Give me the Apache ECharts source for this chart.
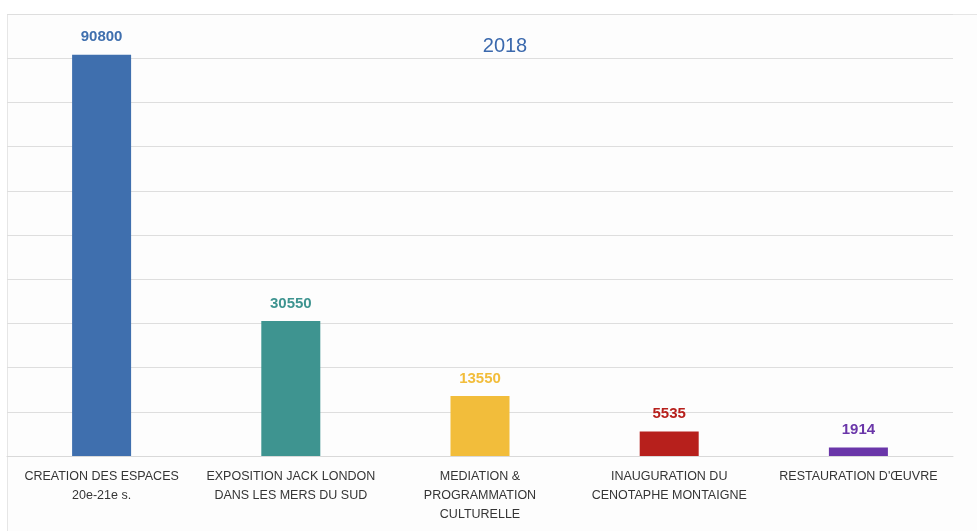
<!DOCTYPE html>
<html>
<head>
<meta charset="utf-8">
<script src="https://cdn.jsdelivr.net/npm/echarts@6/dist/echarts.min.js"></script>
<style>
  html, body { margin: 0; padding: 0; background: #ffffff; }
  #chart { width: 977px; height: 531px; }
</style>
</head>
<body>
<div id="chart"></div>
<script>
// Project categories (2018) and their amounts
const categories = [
  'CREATION DES ESPACES\n20e-21e s.',
  'EXPOSITION JACK LONDON\nDANS LES MERS DU SUD',
  'MEDIATION &\nPROGRAMMATION\nCULTURELLE',
  'INAUGURATION DU\nCENOTAPHE MONTAIGNE',
  "RESTAURATION D'ŒUVRE"
];
const values = [90800, 30550, 13550, 5535, 1914];
const barColors = ['#3f6fae', '#3e9490', '#f2bd3b', '#b7201c', '#6a36a9'];
const titleText = '2018';

const chart = echarts.init(document.getElementById('chart'), null, { renderer: 'canvas' });

chart.setOption({
  animation: false,
  backgroundColor: '#ffffff',
  title: {
    text: titleText,
    left: 500,
    top: 31,
    textAlign: 'center',
    textStyle: { color: '#3b69ad', fontSize: 20, fontWeight: 'normal', fontFamily: 'Liberation Sans' }
  },
  graphic: [{
    type: 'rect',
    z: -1,
    shape: { x: 7.5, y: 14.5, width: 990, height: 540 },
    style: { fill: '#fdfdfd', stroke: '#e6e6e6', lineWidth: 1 }
  }],
  grid: { left: 7, right: 24, top: 14, bottom: 75, containLabel: false },
  xAxis: {
    type: 'category',
    data: categories,
    axisLine: { show: true, lineStyle: { color: '#d9d9d9', width: 1 } },
    axisTick: { show: false },
    axisLabel: {
      margin: 11,
      interval: 0,
      color: '#353535',
      fontSize: 12.5,
      lineHeight: 19,
      fontFamily: 'Liberation Sans'
    }
  },
  yAxis: {
    type: 'value',
    min: 0,
    max: 100000,
    interval: 10000,
    axisLine: { show: false },
    axisTick: { show: false },
    axisLabel: { show: false },
    splitLine: { lineStyle: { color: '#dedede', width: 1 } }
  },
  series: [{
    type: 'bar',
    barWidth: 59,
    data: values.map((v, i) => ({
      value: v,
      itemStyle: { color: barColors[i] },
      label: { color: barColors[i] }
    })),
    label: {
      show: true,
      position: 'top',
      distance: 10,
      fontSize: 15,
      fontWeight: 'bold',
      fontFamily: 'Liberation Sans'
    }
  }]
});
</script>
</body>
</html>
